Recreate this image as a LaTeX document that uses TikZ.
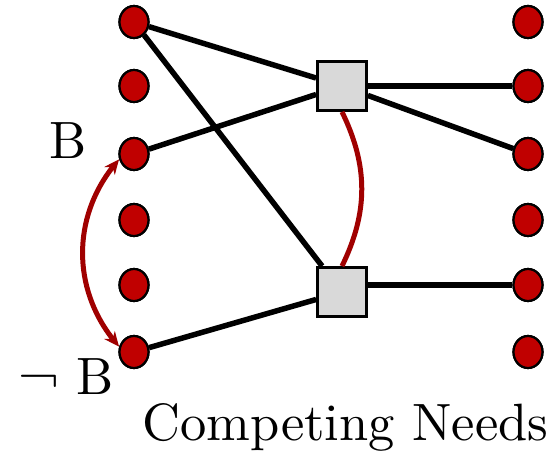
\documentclass[tikz,border=0pt]{standalone}
\usepackage{fontspec}
\setmainfont{lmroman10-regular.otf}
\usetikzlibrary{shapes.geometric,arrows.meta,bending}
\definecolor{dotred}{RGB}{192,0,0}
\definecolor{arcred}{RGB}{160,0,0}
\definecolor{boxgray}{RGB}{217,217,217}
\tikzset{
  dot/.style={ellipse, draw=black, line width=2.2pt, fill=dotred, minimum width=29pt, minimum height=32pt, inner sep=0pt},
  act/.style={rectangle, draw=black, line width=2.8pt, fill=boxgray, minimum size=49pt, inner sep=0pt},
  link/.style={line width=5.5pt, black},
  mutex/.style={line width=5pt, arcred},
  lbl/.style={font=\fontsize{52.5}{60}\selectfont, inner sep=0pt, anchor=base}
}
\begin{document}
\begin{tikzpicture}[x=1pt,y=-1pt]
\useasboundingbox (0,0) rectangle (560,454);
\node[act] (s1) at (342,86) {};
\node[act] (s2) at (342,292) {};
\foreach \i/\y in {1/22,2/86,3/154,4/220,5/285,6/352}{
  \node[dot] (l\i) at (134,\y) {};
  \node[dot] (r\i) at (528,\y) {};
}
\draw[link] (l1) -- (s1);
\draw[link] (l1) -- (s2);
\draw[link] (l3) -- (s1);
\draw[link] (l6) -- (s2);
\draw[link] (r2 -| s1.east) -- (r2);
\draw[link] (s1) -- (r3);
\draw[link] (r5 -| s2.east) -- (r5);
% redraw nodes on top of connectors
\node[act] at (342,86) {};
\node[act] at (342,292) {};
\foreach \i/\y in {1/22,2/86,3/154,4/220,5/285,6/352}{
  \node[dot] at (134,\y) {};
  \node[dot] at (528,\y) {};
}
\draw[mutex, {Stealth[length=15pt,width=13pt,bend]}-{Stealth[length=15pt,width=13pt,bend]}, bend right=42] (l3.200) to (l6.160);
\draw[mutex, bend left=26] (s1.south) to (s2.north);
\node[lbl] (b) at (68,159) {B};
\node[lbl] (nb) at (66,395) {¬ B};
\node[lbl] (cn) at (345.5,440) {Competing Needs};
\end{tikzpicture}
\end{document}
